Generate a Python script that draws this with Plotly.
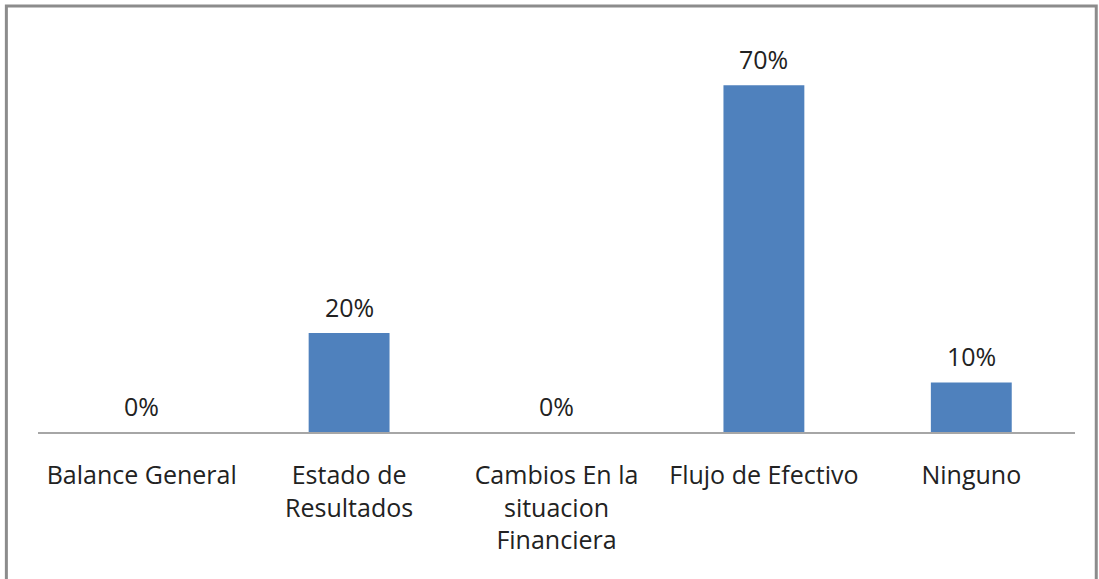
import plotly.graph_objects as go

categories = ["Balance General", "Estado de<br>Resultados", "Cambios En la<br>situacion<br>Financiera",
              "Flujo de Efectivo", "Ninguno"]
values = [0, 20, 0, 70, 10]
labels = ["0%", "20%", "0%", "70%", "10%"]

FONT = "Open Sans"
FS = 26
fig = go.Figure()
fig.add_trace(go.Bar(x=categories, y=values, marker=dict(color="#4F81BD", line=dict(width=0)),
                     width=0.39, hoverinfo="skip"))

for c, v, t in zip(categories, values, labels):
    fig.add_annotation(x=c, y=v, text=t, showarrow=False, yanchor="bottom", yshift=7,
                       font=dict(family=FONT, size=FS - 1, color="#222222"))

fig.add_shape(type="rect", xref="paper", yref="paper", x0=-0.0305, x1=1.0205, y0=-0.5, y1=1.034,
              line=dict(color="#8C8C8C", width=3), fillcolor="rgba(0,0,0,0)", layer="below")

fig.update_layout(
    width=1099, height=579,
    margin=dict(l=38, r=24, t=20, b=147),
    plot_bgcolor="white", paper_bgcolor="white",
    showlegend=False,
    bargap=0.61,
    font=dict(family=FONT, size=FS, color="#222222"),
    xaxis=dict(showline=True, linecolor="#A6A6A6", linewidth=2, showgrid=False, ticks="",
               ticklabelstandoff=20, tickfont=dict(family=FONT, size=FS - 1, color="#222222"),
               fixedrange=True),
    yaxis=dict(range=[0, 83.2], visible=False, showgrid=False, zeroline=False, fixedrange=True),
)

fig.write_html("out.html", config={"displayModeBar": False},
               post_script="document.body.style.margin='0';document.body.style.overflow='hidden';")
